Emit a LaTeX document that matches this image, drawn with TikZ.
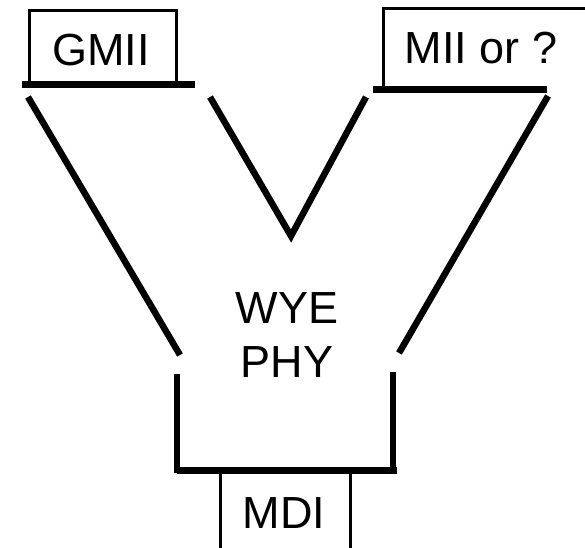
\documentclass[tikz,border=0pt]{standalone}
\usepackage{fontspec}
\setmainfont{Liberation Sans}
\begin{document}
\begin{tikzpicture}[x=1pt,y=-1pt,
  lbl/.style={font=\fontsize{45}{50}\selectfont, inner sep=0pt, anchor=base},
  boxline/.style={line width=3pt},
  arm/.style={line width=6.5pt},
  bar/.style={line width=7pt}]
\useasboundingbox (0,0) rectangle (585,547);
\clip (0,0) rectangle (585,547);

% interface boxes
\draw[boxline] (29,84) -- (29,10) -- (176,10) -- (176,84);
\draw[boxline] (383,89) -- (383,8) -- (600,8) -- (600,89);
\draw[boxline] (220,470) -- (220,560) -- (350,560) -- (350,470);

% box labels
\node[lbl] (gmii) at (101,65) {GMII};
\node[lbl] (mii) at (481,63) {MII or ?};
\node[lbl] (mdi) at (284,528) {MDI};

% centre label
\node[lbl] (wye) at (287,323) {WYE};
\node[lbl] (phy) at (287,377) {PHY};

% thick bars at the box edges
\draw[bar] (22,84.5) -- (195,84.5);
\draw[bar] (373,89) -- (547,89);
\draw[bar] (177,470) -- (397,470);

% the Y outline
\draw[arm] (28,97) -- (180,355);
\draw[arm] (210,97) -- (291,236) -- (366,97);
\draw[arm] (548,96) -- (399,353);
\draw[arm] (177,374) -- (177,473);
\draw[arm] (393,372) -- (393,473);
\end{tikzpicture}
\end{document}
